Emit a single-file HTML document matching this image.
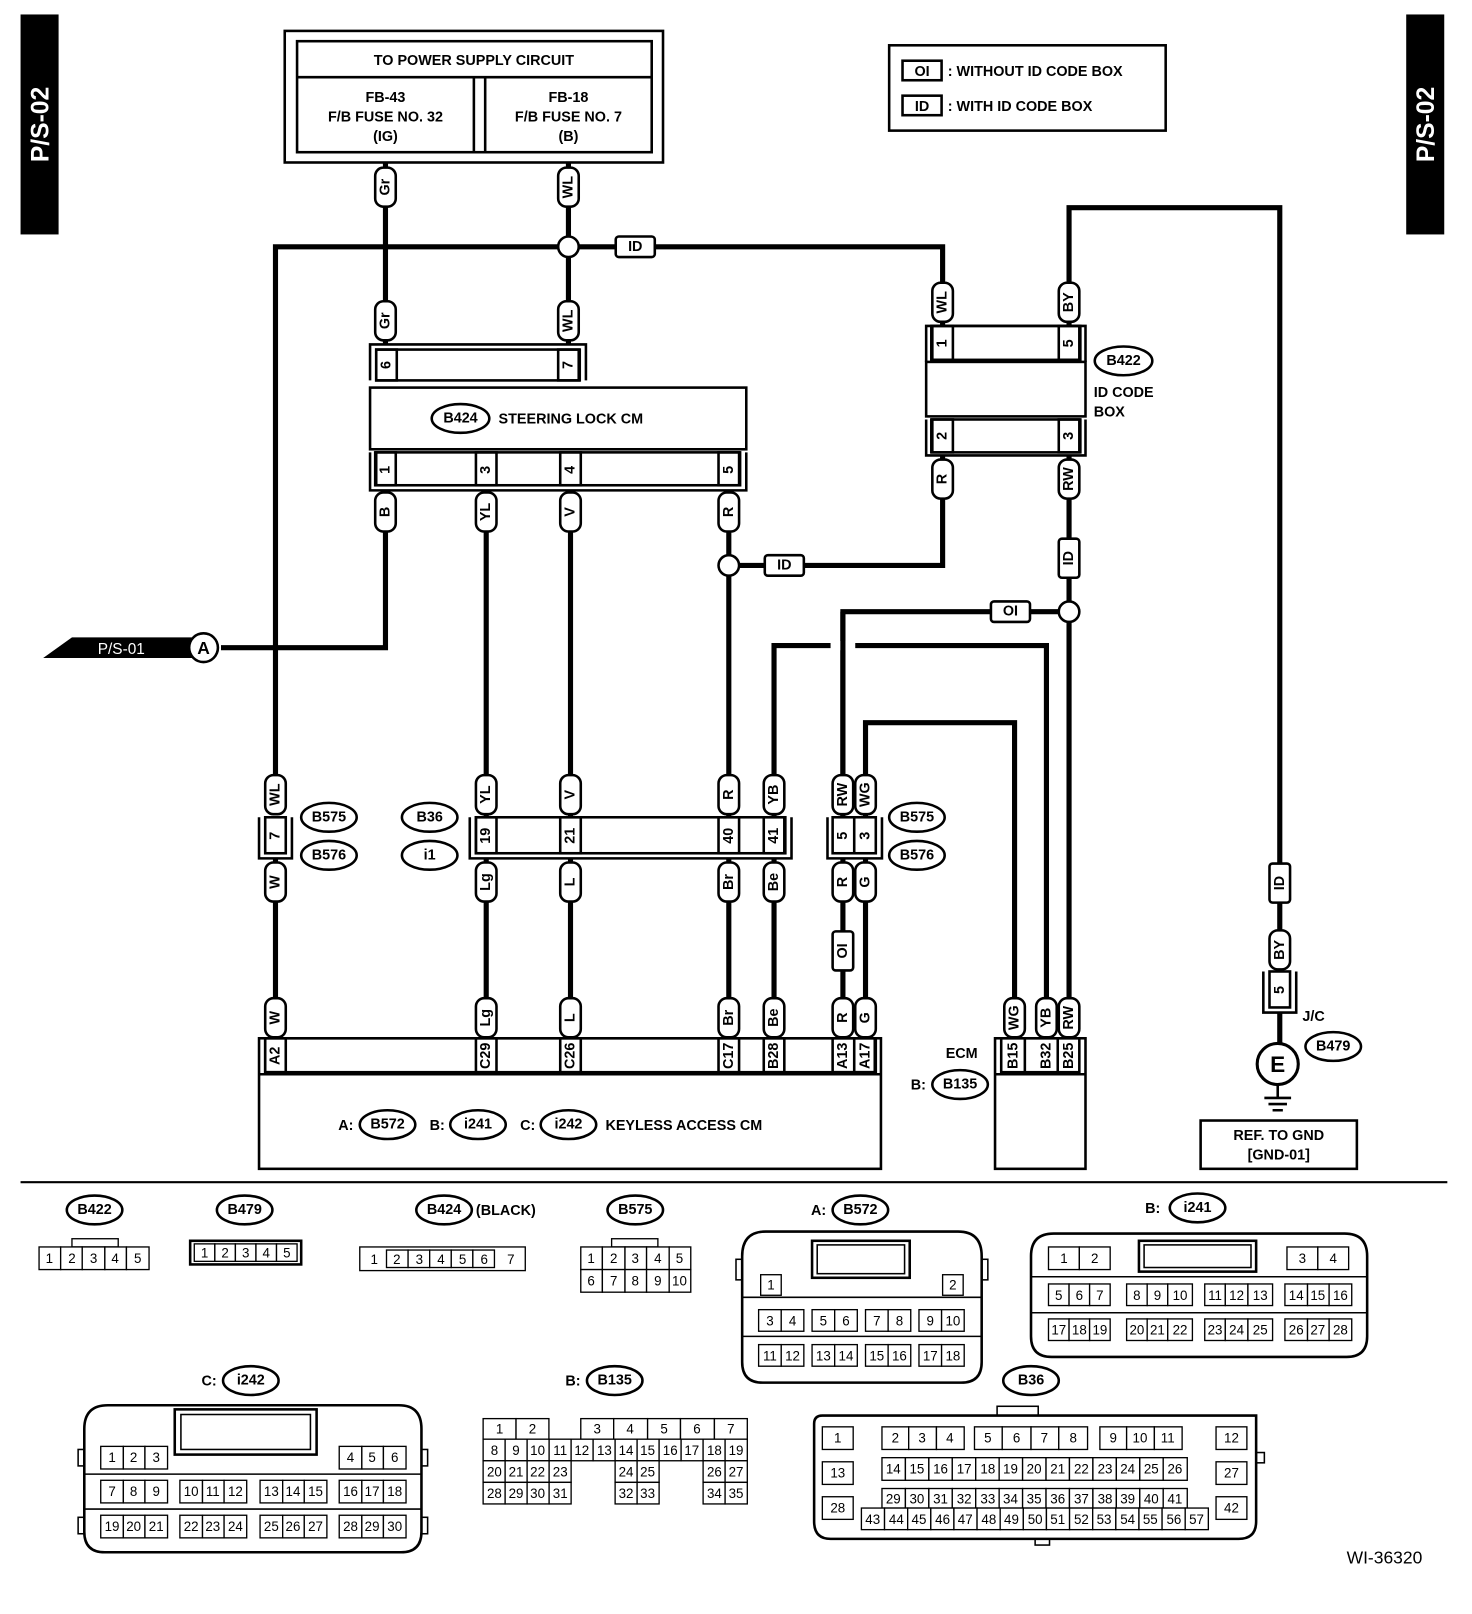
<!DOCTYPE html>
<html><head><meta charset="utf-8"><style>
html,body{margin:0;padding:0;background:#fff}
svg{display:block}
text{font-family:"Liberation Sans",Arial,sans-serif;font-weight:bold;fill:#000}
.w{fill:none;stroke:#000;stroke-width:5}
.b{fill:none;stroke:#000;stroke-width:2.5}
.t{fill:none;stroke:#000;stroke-width:1.5}
.p rect{fill:#fff;stroke:#000;stroke-width:2.5}
.p text{font-size:14px;text-anchor:middle;dominant-baseline:central}
.c text{font-size:13px;font-weight:normal;text-anchor:middle;dominant-baseline:central}
.c rect{fill:#fff;stroke:#000;stroke-width:1.3}
.o ellipse{fill:#fff;stroke:#000;stroke-width:2.5}
.o text{font-size:14px;text-anchor:middle;dominant-baseline:central}
.l{font-size:14px}
</style></head><body>
<svg width="1472" height="1614" viewBox="0 0 1432 1570" xmlns="http://www.w3.org/2000/svg">
<rect x="20" y="14" width="37" height="214" fill="#000"/>
<text transform="translate(47,121) rotate(-90)" style="fill:#fff;font-size:24px" text-anchor="middle">P/S-02</text>
<rect x="1368" y="14" width="37" height="214" fill="#000"/>
<text transform="translate(1395,121) rotate(-90)" style="fill:#fff;font-size:24px" text-anchor="middle">P/S-02</text>

<rect x="277" y="30" width="368" height="128" class="b"/>
<rect x="289" y="40" width="345" height="108" class="b"/>
<line x1="289" y1="75" x2="634" y2="75" class="b"/>
<line x1="461" y1="75" x2="461" y2="148" class="b"/><line x1="472" y1="75" x2="472" y2="148" class="b"/>
<g class="l" text-anchor="middle">
<text x="461" y="63">TO POWER SUPPLY CIRCUIT</text>
<text x="375" y="99">FB-43</text><text x="375" y="118">F/B FUSE NO. 32</text><text x="375" y="137">(IG)</text>
<text x="553" y="99">FB-18</text><text x="553" y="118">F/B FUSE NO. 7</text><text x="553" y="137">(B)</text>
</g>

<rect x="865" y="44" width="269" height="83" class="b"/>
<rect x="878" y="59" width="38" height="19" class="b"/><text x="897" y="74" class="l" text-anchor="middle">OI</text>
<text x="922" y="74" class="l">: WITHOUT ID CODE BOX</text>
<rect x="878" y="93" width="38" height="19" class="b"/><text x="897" y="108" class="l" text-anchor="middle">ID</text>
<text x="922" y="108" class="l">: WITH ID CODE BOX</text>

<path class="w" d="M375 158V335M553 158V335M268 770V240H917V317"/>
<path class="w" d="M1040 317V202H1245V945"/>
<path class="w" d="M375 477V630H215"/>
<path class="w" d="M473 477V795M555 477V795M709 477V795M709 550H917V443"/>
<path class="w" d="M1040 443V1010M1040 595H820V795"/>
<path class="w" d="M753 795V628H1018V1010"/>
<path class="w" d="M842 795V703H987V1010"/>
<line x1="808" y1="628" x2="832" y2="628" stroke="#fff" stroke-width="9"/>
<path class="w" d="M820 795V595"/>
<path class="w" d="M268 835V1010M473 835V1010M555 835V1010M709 835V1010M753 835V1010M820 835V1010M842 835V1010"/>
<circle cx="553" cy="240" r="10" fill="#fff" stroke="#000" stroke-width="2.5"/>
<circle cx="709" cy="550" r="10" fill="#fff" stroke="#000" stroke-width="2.5"/>
<circle cx="1040" cy="595" r="10" fill="#fff" stroke="#000" stroke-width="2.5"/>

<polygon points="42,640 70,620 190,620 190,640" fill="#000"/>
<text x="118" y="636" style="fill:#fff;font-size:15px;font-weight:normal" text-anchor="middle">P/S-01</text>
<circle cx="198" cy="630" r="14" fill="#fff" stroke="#000" stroke-width="2.5"/>
<text x="198" y="636" text-anchor="middle" style="font-size:17px">A</text>

<g class="p">
<rect x="599" y="230" width="38" height="20" rx="3"/><text x="618" y="240">ID</text>
<rect x="744" y="540" width="38" height="20" rx="3"/><text x="763" y="550">ID</text>
<rect x="964" y="585" width="38" height="20" rx="3"/><text x="983" y="595">OI</text>
<rect x="1030" y="524" width="20" height="38" rx="3"/><text transform="translate(1040,543) rotate(-90)">ID</text>
<rect x="810" y="906" width="20" height="38" rx="3"/><text transform="translate(820,925) rotate(-90)">OI</text>
<rect x="1235" y="840" width="20" height="38" rx="3"/><text transform="translate(1245,859) rotate(-90)">ID</text>
</g>

<g class="p">
<g transform="translate(375,182)"><rect x="-10" y="-19" width="20" height="38" rx="8"/><text transform="rotate(-90)">Gr</text></g>
<g transform="translate(553,182)"><rect x="-10" y="-19" width="20" height="38" rx="8"/><text transform="rotate(-90)">WL</text></g>
<g transform="translate(375,312)"><rect x="-10" y="-19" width="20" height="38" rx="8"/><text transform="rotate(-90)">Gr</text></g>
<g transform="translate(553,312)"><rect x="-10" y="-19" width="20" height="38" rx="8"/><text transform="rotate(-90)">WL</text></g>
<g transform="translate(917,294)"><rect x="-10" y="-19" width="20" height="38" rx="8"/><text transform="rotate(-90)">WL</text></g>
<g transform="translate(1040,294)"><rect x="-10" y="-19" width="20" height="38" rx="8"/><text transform="rotate(-90)">BY</text></g>
<g transform="translate(917,466)"><rect x="-10" y="-19" width="20" height="38" rx="8"/><text transform="rotate(-90)">R</text></g>
<g transform="translate(1040,466)"><rect x="-10" y="-19" width="20" height="38" rx="8"/><text transform="rotate(-90)">RW</text></g>
<g transform="translate(375,498)"><rect x="-10" y="-19" width="20" height="38" rx="8"/><text transform="rotate(-90)">B</text></g>
<g transform="translate(473,498)"><rect x="-10" y="-19" width="20" height="38" rx="8"/><text transform="rotate(-90)">YL</text></g>
<g transform="translate(555,498)"><rect x="-10" y="-19" width="20" height="38" rx="8"/><text transform="rotate(-90)">V</text></g>
<g transform="translate(709,498)"><rect x="-10" y="-19" width="20" height="38" rx="8"/><text transform="rotate(-90)">R</text></g>
<g transform="translate(268,773)"><rect x="-10" y="-19" width="20" height="38" rx="8"/><text transform="rotate(-90)">WL</text></g>
<g transform="translate(473,773)"><rect x="-10" y="-19" width="20" height="38" rx="8"/><text transform="rotate(-90)">YL</text></g>
<g transform="translate(555,773)"><rect x="-10" y="-19" width="20" height="38" rx="8"/><text transform="rotate(-90)">V</text></g>
<g transform="translate(709,773)"><rect x="-10" y="-19" width="20" height="38" rx="8"/><text transform="rotate(-90)">R</text></g>
<g transform="translate(753,773)"><rect x="-10" y="-19" width="20" height="38" rx="8"/><text transform="rotate(-90)">YB</text></g>
<g transform="translate(820,773)"><rect x="-10" y="-19" width="20" height="38" rx="8"/><text transform="rotate(-90)">RW</text></g>
<g transform="translate(842,773)"><rect x="-10" y="-19" width="20" height="38" rx="8"/><text transform="rotate(-90)">WG</text></g>
<g transform="translate(268,858)"><rect x="-10" y="-19" width="20" height="38" rx="8"/><text transform="rotate(-90)">W</text></g>
<g transform="translate(473,858)"><rect x="-10" y="-19" width="20" height="38" rx="8"/><text transform="rotate(-90)">Lg</text></g>
<g transform="translate(555,858)"><rect x="-10" y="-19" width="20" height="38" rx="8"/><text transform="rotate(-90)">L</text></g>
<g transform="translate(709,858)"><rect x="-10" y="-19" width="20" height="38" rx="8"/><text transform="rotate(-90)">Br</text></g>
<g transform="translate(753,858)"><rect x="-10" y="-19" width="20" height="38" rx="8"/><text transform="rotate(-90)">Be</text></g>
<g transform="translate(820,858)"><rect x="-10" y="-19" width="20" height="38" rx="8"/><text transform="rotate(-90)">R</text></g>
<g transform="translate(842,858)"><rect x="-10" y="-19" width="20" height="38" rx="8"/><text transform="rotate(-90)">G</text></g>
<g transform="translate(1245,924)"><rect x="-10" y="-19" width="20" height="38" rx="8"/><text transform="rotate(-90)">BY</text></g>
<g transform="translate(268,990)"><rect x="-10" y="-19" width="20" height="38" rx="8"/><text transform="rotate(-90)">W</text></g>
<g transform="translate(473,990)"><rect x="-10" y="-19" width="20" height="38" rx="8"/><text transform="rotate(-90)">Lg</text></g>
<g transform="translate(555,990)"><rect x="-10" y="-19" width="20" height="38" rx="8"/><text transform="rotate(-90)">L</text></g>
<g transform="translate(709,990)"><rect x="-10" y="-19" width="20" height="38" rx="8"/><text transform="rotate(-90)">Br</text></g>
<g transform="translate(753,990)"><rect x="-10" y="-19" width="20" height="38" rx="8"/><text transform="rotate(-90)">Be</text></g>
<g transform="translate(820,990)"><rect x="-10" y="-19" width="20" height="38" rx="8"/><text transform="rotate(-90)">R</text></g>
<g transform="translate(842,990)"><rect x="-10" y="-19" width="20" height="38" rx="8"/><text transform="rotate(-90)">G</text></g>
<g transform="translate(987,990)"><rect x="-10" y="-19" width="20" height="38" rx="8"/><text transform="rotate(-90)">WG</text></g>
<g transform="translate(1018,990)"><rect x="-10" y="-19" width="20" height="38" rx="8"/><text transform="rotate(-90)">YB</text></g>
<g transform="translate(1040,990)"><rect x="-10" y="-19" width="20" height="38" rx="8"/><text transform="rotate(-90)">RW</text></g>
</g>

<path class="b" d="M360 370V335H570V370"/>
<rect x="366" y="340" width="198" height="30" fill="#fff" class="b"/>
<rect x="366" y="340" width="20" height="30" class="b"/><rect x="543" y="340" width="20" height="30" class="b"/>
<text transform="translate(376,355) rotate(-90)" class="l" text-anchor="middle" dominant-baseline="central">6</text>
<text transform="translate(553,355) rotate(-90)" class="l" text-anchor="middle" dominant-baseline="central">7</text>
<rect x="360" y="377" width="366" height="60" class="b"/>
<path class="b" d="M360 440V477H726V440"/>
<rect x="366" y="440" width="354" height="32" class="b"/>
<rect x="365" y="440" width="20" height="32" class="b"/><rect x="463" y="440" width="20" height="32" class="b"/><rect x="545" y="440" width="20" height="32" class="b"/><rect x="699" y="440" width="20" height="32" class="b"/>
<g class="l" text-anchor="middle" dominant-baseline="central">
<text transform="translate(375,457) rotate(-90)">1</text><text transform="translate(473,457) rotate(-90)">3</text><text transform="translate(555,457) rotate(-90)">4</text><text transform="translate(709,457) rotate(-90)">5</text>
</g>
<g class="o"><ellipse cx="448" cy="407" rx="28" ry="14"/><text x="448" y="407">B424</text></g>
<text x="485" y="412" class="l">STEERING LOCK CM</text>

<path class="b" d="M901 352V317H1056V352"/>
<rect x="906" y="317" width="145" height="33" class="b"/>
<rect x="907" y="317" width="20" height="33" class="b"/><rect x="1030" y="317" width="20" height="33" class="b"/>
<rect x="901" y="352" width="155" height="53" class="b"/>
<path class="b" d="M901 408V443H1056V408"/>
<rect x="906" y="408" width="145" height="32" class="b"/>
<rect x="907" y="408" width="20" height="32" class="b"/><rect x="1030" y="408" width="20" height="32" class="b"/>
<g class="l" text-anchor="middle" dominant-baseline="central">
<text transform="translate(917,334) rotate(-90)">1</text><text transform="translate(1040,334) rotate(-90)">5</text>
<text transform="translate(917,424) rotate(-90)">2</text><text transform="translate(1040,424) rotate(-90)">3</text>
</g>
<g class="o"><ellipse cx="1093" cy="351" rx="28" ry="14"/><text x="1093" y="351">B422</text></g>
<text x="1064" y="386" class="l">ID CODE</text><text x="1064" y="405" class="l">BOX</text>

<path class="b" d="M252 795V835H284V795"/>
<rect x="258" y="795" width="20" height="35" class="b" fill="#fff"/>
<text transform="translate(268,813) rotate(-90)" class="l" text-anchor="middle" dominant-baseline="central">7</text>
<g class="o"><ellipse cx="320" cy="795" rx="27" ry="14"/><text x="320" y="795">B575</text>
<ellipse cx="320" cy="832" rx="27" ry="14"/><text x="320" y="832">B576</text>
<ellipse cx="418" cy="795" rx="27" ry="14"/><text x="418" y="795">B36</text>
<ellipse cx="418" cy="832" rx="27" ry="14"/><text x="418" y="832">i1</text></g>
<path class="b" d="M457 795V835H770V795"/>
<rect x="463" y="795" width="301" height="35" class="b"/>
<rect x="463" y="795" width="20" height="35" class="b"/><rect x="545" y="795" width="20" height="35" class="b"/><rect x="699" y="795" width="20" height="35" class="b"/><rect x="743" y="795" width="20" height="35" class="b"/>
<g class="l" text-anchor="middle" dominant-baseline="central">
<text transform="translate(473,813) rotate(-90)">19</text><text transform="translate(555,813) rotate(-90)">21</text><text transform="translate(709,813) rotate(-90)">40</text><text transform="translate(753,813) rotate(-90)">41</text>
</g>
<path class="b" d="M805 795V835H858V795"/>
<rect x="810" y="795" width="42" height="35" class="b"/>
<line x1="831" y1="795" x2="831" y2="830" class="b"/>
<g class="l" text-anchor="middle" dominant-baseline="central">
<text transform="translate(820,813) rotate(-90)">5</text><text transform="translate(842,813) rotate(-90)">3</text></g>
<g class="o"><ellipse cx="892" cy="795" rx="27" ry="14"/><text x="892" y="795">B575</text>
<ellipse cx="892" cy="832" rx="27" ry="14"/><text x="892" y="832">B576</text></g>

<path class="b" d="M1229 945V985H1261V945"/>
<rect x="1235" y="945" width="20" height="35" class="b"/>
<text transform="translate(1245,963) rotate(-90)" class="l" text-anchor="middle" dominant-baseline="central">5</text>
<path class="w" d="M1245 985V1015"/>
<circle cx="1243" cy="1035" r="20" fill="#fff" stroke="#000" stroke-width="3"/>
<text x="1243" y="1043" text-anchor="middle" style="font-size:22px">E</text>
<path d="M1243 1055V1068M1230 1068H1256M1234 1074H1252M1238 1080H1248" stroke="#000" stroke-width="2.5"/>
<text x="1267" y="993" class="l">J/C</text>
<g class="o"><ellipse cx="1297" cy="1018" rx="27" ry="14"/><text x="1297" y="1018">B479</text></g>
<rect x="1168" y="1090" width="152" height="47" class="b"/>
<text x="1244" y="1109" class="l" text-anchor="middle">REF. TO GND</text>
<text x="1244" y="1128" class="l" text-anchor="middle">[GND-01]</text>

<rect x="252" y="1010" width="605" height="127" class="b"/>
<rect x="258" y="1010" width="593" height="33" class="b"/>
<line x1="252" y1="1045" x2="857" y2="1045" class="b"/>
<g fill="none"><rect x="258" y="1010" width="20" height="33" class="b"/><rect x="463" y="1010" width="20" height="33" class="b"/><rect x="545" y="1010" width="20" height="33" class="b"/><rect x="699" y="1010" width="20" height="33" class="b"/><rect x="743" y="1010" width="20" height="33" class="b"/><rect x="810" y="1010" width="42" height="33" class="b"/><line x1="831" y1="1010" x2="831" y2="1043" class="b"/></g>
<g class="l" text-anchor="middle" dominant-baseline="central">
<text transform="translate(268,1027) rotate(-90)">A2</text><text transform="translate(473,1027) rotate(-90)">C29</text><text transform="translate(555,1027) rotate(-90)">C26</text><text transform="translate(709,1027) rotate(-90)">C17</text><text transform="translate(753,1027) rotate(-90)">B28</text><text transform="translate(820,1027) rotate(-90)">A13</text><text transform="translate(842,1027) rotate(-90)">A17</text>
</g>
<text x="329" y="1099" class="l">A:</text>
<g class="o"><ellipse cx="377" cy="1094" rx="27" ry="14"/><text x="377" y="1094">B572</text></g>
<text x="418" y="1099" class="l">B:</text>
<g class="o"><ellipse cx="465" cy="1094" rx="27" ry="14"/><text x="465" y="1094">i241</text></g>
<text x="506" y="1099" class="l">C:</text>
<g class="o"><ellipse cx="553" cy="1094" rx="27" ry="14"/><text x="553" y="1094">i242</text></g>
<text x="589" y="1099" class="l">KEYLESS ACCESS CM</text>

<rect x="968" y="1010" width="88" height="127" class="b"/>
<rect x="974" y="1010" width="76" height="33" class="b"/>
<line x1="968" y1="1045" x2="1056" y2="1045" class="b"/>
<line x1="997" y1="1010" x2="997" y2="1043" class="b"/><line x1="1029" y1="1010" x2="1029" y2="1043" class="b"/>
<g class="l" text-anchor="middle" dominant-baseline="central">
<text transform="translate(986,1027) rotate(-90)">B15</text><text transform="translate(1018,1027) rotate(-90)">B32</text><text transform="translate(1040,1027) rotate(-90)">B25</text></g>
<text x="920" y="1029" class="l">ECM</text>
<text x="886" y="1060" class="l">B:</text>
<g class="o"><ellipse cx="934" cy="1055" rx="27" ry="14"/><text x="934" y="1055">B135</text></g>

<line x1="20" y1="1150" x2="1408" y2="1150" stroke="#000" stroke-width="2"/>

<g class="o">
<ellipse cx="92" cy="1177" rx="27" ry="14"/><text x="92" y="1177">B422</text>
<ellipse cx="238" cy="1177" rx="27" ry="14"/><text x="238" y="1177">B479</text>
<ellipse cx="432" cy="1177" rx="27" ry="14"/><text x="432" y="1177">B424</text>
<ellipse cx="618" cy="1177" rx="27" ry="14"/><text x="618" y="1177">B575</text>
<ellipse cx="837" cy="1177" rx="27" ry="14"/><text x="837" y="1177">B572</text>
<ellipse cx="1165" cy="1175" rx="27" ry="14"/><text x="1165" y="1175">i241</text>
<ellipse cx="244" cy="1343" rx="27" ry="14"/><text x="244" y="1343">i242</text>
<ellipse cx="598" cy="1343" rx="27" ry="14"/><text x="598" y="1343">B135</text>
<ellipse cx="1003" cy="1343" rx="27" ry="14"/><text x="1003" y="1343">B36</text>
</g>
<text x="463" y="1182" class="l">(BLACK)</text>
<text x="789" y="1182" class="l">A:</text>
<text x="1114" y="1180" class="l">B:</text>
<text x="196" y="1348" class="l">C:</text>
<text x="550" y="1348" class="l">B:</text>

<g class="c">
<rect x="70" y="1205" width="45" height="8"/>
<rect x="38" y="1213" width="21" height="22"/><text x="48" y="1224">1</text>
<rect x="59" y="1213" width="21" height="22"/><text x="70" y="1224">2</text>
<rect x="80" y="1213" width="22" height="22"/><text x="91" y="1224">3</text>
<rect x="102" y="1213" width="21" height="22"/><text x="112" y="1224">4</text>
<rect x="123" y="1213" width="22" height="22"/><text x="134" y="1224">5</text>
<rect x="185" y="1207" width="108" height="23" style="stroke-width:2.5"/>
<rect x="189" y="1210" width="20" height="17"/><text x="199" y="1219">1</text>
<rect x="209" y="1210" width="20" height="17"/><text x="219" y="1219">2</text>
<rect x="229" y="1210" width="20" height="17"/><text x="239" y="1219">3</text>
<rect x="249" y="1210" width="20" height="17"/><text x="259" y="1219">4</text>
<rect x="269" y="1210" width="20" height="17"/><text x="279" y="1219">5</text>
<rect x="350" y="1213" width="161" height="23"/>
<text x="364" y="1225">1</text><rect x="376" y="1216" width="21" height="17"/><text x="386" y="1225">2</text>
<rect x="397" y="1216" width="21" height="17"/><text x="408" y="1225">3</text><rect x="418" y="1216" width="21" height="17"/><text x="429" y="1225">4</text>
<rect x="439" y="1216" width="21" height="17"/><text x="450" y="1225">5</text><rect x="460" y="1216" width="21" height="17"/><text x="471" y="1225">6</text>
<text x="497" y="1225">7</text>
<rect x="595" y="1205" width="45" height="8"/>
<rect x="565" y="1213" width="21" height="22"/><text x="575" y="1224">1</text><rect x="586" y="1213" width="22" height="22"/><text x="597" y="1224">2</text><rect x="608" y="1213" width="21" height="22"/><text x="618" y="1224">3</text><rect x="629" y="1213" width="22" height="22"/><text x="640" y="1224">4</text><rect x="651" y="1213" width="21" height="22"/><text x="661" y="1224">5</text>
<rect x="565" y="1235" width="21" height="22"/><text x="575" y="1246">6</text><rect x="586" y="1235" width="22" height="22"/><text x="597" y="1246">7</text><rect x="608" y="1235" width="21" height="22"/><text x="618" y="1246">8</text><rect x="629" y="1235" width="22" height="22"/><text x="640" y="1246">9</text><rect x="651" y="1235" width="21" height="22"/><text x="661" y="1246">10</text>
</g>

<path class="b" d="M745 1198H932Q955 1198 955 1222V1325Q955 1345 935 1345H742Q722 1345 722 1325V1222Q722 1198 745 1198Z" fill="#fff"/>
<line x1="722" y1="1262" x2="955" y2="1262" class="t"/><line x1="722" y1="1300" x2="955" y2="1300" class="t"/>
<rect x="716" y="1225" width="6" height="20" class="t"/><rect x="955" y="1225" width="6" height="20" class="t"/>
<rect x="790" y="1207" width="95" height="36" class="b"/><rect x="795" y="1211" width="85" height="28" class="t"/>
<g class="c">
<rect x="740" y="1240" width="20" height="20"/><text x="750" y="1250">1</text>
<rect x="917" y="1240" width="20" height="20"/><text x="927" y="1250">2</text>
<rect x="738" y="1274" width="22" height="21"/><text x="749" y="1285">3</text><rect x="760" y="1274" width="22" height="21"/><text x="771" y="1285">4</text>
<rect x="790" y="1274" width="22" height="21"/><text x="801" y="1285">5</text><rect x="812" y="1274" width="22" height="21"/><text x="823" y="1285">6</text>
<rect x="842" y="1274" width="22" height="21"/><text x="853" y="1285">7</text><rect x="864" y="1274" width="22" height="21"/><text x="875" y="1285">8</text>
<rect x="894" y="1274" width="22" height="21"/><text x="905" y="1285">9</text><rect x="916" y="1274" width="22" height="21"/><text x="927" y="1285">10</text>
<rect x="738" y="1308" width="22" height="21"/><text x="749" y="1319">11</text><rect x="760" y="1308" width="22" height="21"/><text x="771" y="1319">12</text>
<rect x="790" y="1308" width="22" height="21"/><text x="801" y="1319">13</text><rect x="812" y="1308" width="22" height="21"/><text x="823" y="1319">14</text>
<rect x="842" y="1308" width="22" height="21"/><text x="853" y="1319">15</text><rect x="864" y="1308" width="22" height="21"/><text x="875" y="1319">16</text>
<rect x="894" y="1308" width="22" height="21"/><text x="905" y="1319">17</text><rect x="916" y="1308" width="22" height="21"/><text x="927" y="1319">18</text>
</g>

<path class="b" d="M1025 1200H1308Q1330 1200 1330 1222V1300Q1330 1320 1310 1320H1023Q1003 1320 1003 1300V1222Q1003 1200 1025 1200Z" fill="#fff"/>
<line x1="1003" y1="1242" x2="1330" y2="1242" class="t"/><line x1="1003" y1="1277" x2="1330" y2="1277" class="t"/>
<rect x="1108" y="1207" width="114" height="30" class="b"/><rect x="1113" y="1211" width="104" height="22" class="t"/>
<g class="c">
<rect x="1020" y="1213" width="30" height="22"/><text x="1035" y="1224">1</text><rect x="1050" y="1213" width="30" height="22"/><text x="1065" y="1224">2</text>
<rect x="1252" y="1213" width="30" height="22"/><text x="1267" y="1224">3</text><rect x="1282" y="1213" width="30" height="22"/><text x="1297" y="1224">4</text>
<rect x="1020" y="1249" width="20" height="21"/><text x="1030" y="1260">5</text><rect x="1040" y="1249" width="20" height="21"/><text x="1050" y="1260">6</text><rect x="1060" y="1249" width="20" height="21"/><text x="1070" y="1260">7</text>
<rect x="1096" y="1249" width="20" height="21"/><text x="1106" y="1260">8</text><rect x="1116" y="1249" width="20" height="21"/><text x="1126" y="1260">9</text><rect x="1136" y="1249" width="24" height="21"/><text x="1148" y="1260">10</text>
<rect x="1172" y="1249" width="20" height="21"/><text x="1182" y="1260">11</text><rect x="1192" y="1249" width="22" height="21"/><text x="1203" y="1260">12</text><rect x="1214" y="1249" width="24" height="21"/><text x="1226" y="1260">13</text>
<rect x="1250" y="1249" width="22" height="21"/><text x="1261" y="1260">14</text><rect x="1272" y="1249" width="21" height="21"/><text x="1282" y="1260">15</text><rect x="1293" y="1249" width="22" height="21"/><text x="1304" y="1260">16</text>
<rect x="1020" y="1283" width="20" height="21"/><text x="1030" y="1294">17</text><rect x="1040" y="1283" width="20" height="21"/><text x="1050" y="1294">18</text><rect x="1060" y="1283" width="20" height="21"/><text x="1070" y="1294">19</text>
<rect x="1096" y="1283" width="20" height="21"/><text x="1106" y="1294">20</text><rect x="1116" y="1283" width="20" height="21"/><text x="1126" y="1294">21</text><rect x="1136" y="1283" width="24" height="21"/><text x="1148" y="1294">22</text>
<rect x="1172" y="1283" width="20" height="21"/><text x="1182" y="1294">23</text><rect x="1192" y="1283" width="22" height="21"/><text x="1203" y="1294">24</text><rect x="1214" y="1283" width="24" height="21"/><text x="1226" y="1294">25</text>
<rect x="1250" y="1283" width="22" height="21"/><text x="1261" y="1294">26</text><rect x="1272" y="1283" width="21" height="21"/><text x="1282" y="1294">27</text><rect x="1293" y="1283" width="22" height="21"/><text x="1304" y="1294">28</text>
</g>

<path class="b" d="M105 1367H388Q410 1367 410 1390V1490Q410 1510 390 1510H102Q82 1510 82 1490V1390Q82 1367 105 1367Z" fill="#fff"/>
<line x1="82" y1="1434" x2="410" y2="1434" class="t"/><line x1="82" y1="1468" x2="410" y2="1468" class="t"/>
<rect x="76" y="1410" width="6" height="16" class="t"/><rect x="410" y="1410" width="6" height="16" class="t"/>
<rect x="76" y="1476" width="6" height="16" class="t"/><rect x="410" y="1476" width="6" height="16" class="t"/>
<rect x="170" y="1371" width="138" height="44" class="b"/><rect x="176" y="1376" width="126" height="34" class="t"/>
<g class="c">
<rect x="98" y="1407" width="22" height="22"/><text x="109" y="1418">1</text><rect x="120" y="1407" width="21" height="22"/><text x="130" y="1418">2</text><rect x="141" y="1407" width="22" height="22"/><text x="152" y="1418">3</text>
<rect x="330" y="1407" width="22" height="22"/><text x="341" y="1418">4</text><rect x="352" y="1407" width="21" height="22"/><text x="362" y="1418">5</text><rect x="373" y="1407" width="22" height="22"/><text x="384" y="1418">6</text>
<rect x="98" y="1440" width="22" height="22"/><text x="109" y="1451">7</text><rect x="120" y="1440" width="21" height="22"/><text x="130" y="1451">8</text><rect x="141" y="1440" width="22" height="22"/><text x="152" y="1451">9</text>
<rect x="175" y="1440" width="22" height="22"/><text x="186" y="1451">10</text><rect x="197" y="1440" width="21" height="22"/><text x="207" y="1451">11</text><rect x="218" y="1440" width="22" height="22"/><text x="229" y="1451">12</text>
<rect x="253" y="1440" width="22" height="22"/><text x="264" y="1451">13</text><rect x="275" y="1440" width="21" height="22"/><text x="285" y="1451">14</text><rect x="296" y="1440" width="22" height="22"/><text x="307" y="1451">15</text>
<rect x="330" y="1440" width="22" height="22"/><text x="341" y="1451">16</text><rect x="352" y="1440" width="21" height="22"/><text x="362" y="1451">17</text><rect x="373" y="1440" width="22" height="22"/><text x="384" y="1451">18</text>
<rect x="98" y="1474" width="22" height="22"/><text x="109" y="1485">19</text><rect x="120" y="1474" width="21" height="22"/><text x="130" y="1485">20</text><rect x="141" y="1474" width="22" height="22"/><text x="152" y="1485">21</text>
<rect x="175" y="1474" width="22" height="22"/><text x="186" y="1485">22</text><rect x="197" y="1474" width="21" height="22"/><text x="207" y="1485">23</text><rect x="218" y="1474" width="22" height="22"/><text x="229" y="1485">24</text>
<rect x="253" y="1474" width="22" height="22"/><text x="264" y="1485">25</text><rect x="275" y="1474" width="21" height="22"/><text x="285" y="1485">26</text><rect x="296" y="1474" width="22" height="22"/><text x="307" y="1485">27</text>
<rect x="330" y="1474" width="22" height="22"/><text x="341" y="1485">28</text><rect x="352" y="1474" width="21" height="22"/><text x="362" y="1485">29</text><rect x="373" y="1474" width="22" height="22"/><text x="384" y="1485">30</text>
</g>

<g class="c">
<rect x="470" y="1380" width="32" height="20"/><text x="486" y="1390">1</text><rect x="502" y="1380" width="32" height="20"/><text x="518" y="1390">2</text>
<rect x="565" y="1380" width="32" height="20"/><text x="581" y="1390">3</text><rect x="597" y="1380" width="33" height="20"/><text x="613" y="1390">4</text><rect x="630" y="1380" width="32" height="20"/><text x="646" y="1390">5</text><rect x="662" y="1380" width="33" height="20"/><text x="678" y="1390">6</text><rect x="695" y="1380" width="32" height="20"/><text x="711" y="1390">7</text>
<rect x="470" y="1400" width="21.4" height="21"/><text x="481" y="1411">8</text><rect x="491.4" y="1400" width="21.4" height="21"/><text x="502" y="1411">9</text><rect x="512.8" y="1400" width="21.4" height="21"/><text x="523" y="1411">10</text><rect x="534.2" y="1400" width="21.4" height="21"/><text x="545" y="1411">11</text><rect x="555.6" y="1400" width="21.4" height="21"/><text x="566" y="1411">12</text><rect x="577" y="1400" width="21.4" height="21"/><text x="588" y="1411">13</text><rect x="598.4" y="1400" width="21.4" height="21"/><text x="609" y="1411">14</text><rect x="619.8" y="1400" width="21.4" height="21"/><text x="630" y="1411">15</text><rect x="641.2" y="1400" width="21.4" height="21"/><text x="652" y="1411">16</text><rect x="662.6" y="1400" width="21.4" height="21"/><text x="673" y="1411">17</text><rect x="684" y="1400" width="21.4" height="21"/><text x="695" y="1411">18</text><rect x="705.4" y="1400" width="21.6" height="21"/><text x="716" y="1411">19</text>
<rect x="470" y="1421" width="21.4" height="21"/><text x="481" y="1432">20</text><rect x="491.4" y="1421" width="21.4" height="21"/><text x="502" y="1432">21</text><rect x="512.8" y="1421" width="21.4" height="21"/><text x="523" y="1432">22</text><rect x="534.2" y="1421" width="21.4" height="21"/><text x="545" y="1432">23</text>
<rect x="598.4" y="1421" width="21.4" height="21"/><text x="609" y="1432">24</text><rect x="619.8" y="1421" width="21.4" height="21"/><text x="630" y="1432">25</text>
<rect x="684" y="1421" width="21.4" height="21"/><text x="695" y="1432">26</text><rect x="705.4" y="1421" width="21.6" height="21"/><text x="716" y="1432">27</text>
<rect x="470" y="1442" width="21.4" height="21"/><text x="481" y="1453">28</text><rect x="491.4" y="1442" width="21.4" height="21"/><text x="502" y="1453">29</text><rect x="512.8" y="1442" width="21.4" height="21"/><text x="523" y="1453">30</text><rect x="534.2" y="1442" width="21.4" height="21"/><text x="545" y="1453">31</text>
<rect x="598.4" y="1442" width="21.4" height="21"/><text x="609" y="1453">32</text><rect x="619.8" y="1442" width="21.4" height="21"/><text x="630" y="1453">33</text>
<rect x="684" y="1442" width="21.4" height="21"/><text x="695" y="1453">34</text><rect x="705.4" y="1442" width="21.6" height="21"/><text x="716" y="1453">35</text>
</g>

<path class="b" d="M800 1377H1222V1480Q1222 1497 1205 1497H808Q792 1497 792 1480V1385Q792 1377 800 1377Z" fill="#fff"/>
<rect x="970" y="1368" width="40" height="9" class="t"/><rect x="1222" y="1413" width="8" height="10" class="t"/>
<rect x="1007" y="1497" width="14" height="6" class="t"/>
<g class="c">
<rect x="800" y="1388" width="30" height="22"/><text x="815" y="1399">1</text>
<rect x="800" y="1422" width="30" height="22"/><text x="815" y="1433">13</text>
<rect x="800" y="1456" width="30" height="22"/><text x="815" y="1467">28</text>
<rect x="1183" y="1388" width="30" height="22"/><text x="1198" y="1399">12</text>
<rect x="1183" y="1422" width="30" height="22"/><text x="1198" y="1433">27</text>
<rect x="1183" y="1456" width="30" height="22"/><text x="1198" y="1467">42</text>
<rect x="858" y="1388" width="26" height="22"/><text x="871" y="1399">2</text><rect x="884" y="1388" width="27" height="22"/><text x="897" y="1399">3</text><rect x="911" y="1388" width="27" height="22"/><text x="924" y="1399">4</text>
<rect x="948" y="1388" width="27" height="22"/><text x="961" y="1399">5</text><rect x="975" y="1388" width="28" height="22"/><text x="989" y="1399">6</text><rect x="1003" y="1388" width="27" height="22"/><text x="1016" y="1399">7</text><rect x="1030" y="1388" width="28" height="22"/><text x="1044" y="1399">8</text>
<rect x="1070" y="1388" width="26" height="22"/><text x="1083" y="1399">9</text><rect x="1096" y="1388" width="27" height="22"/><text x="1109" y="1399">10</text><rect x="1123" y="1388" width="27" height="22"/><text x="1136" y="1399">11</text>
</g>
<g class="c" style="font-size:12px">
<rect x="858" y="1418" width="22.8" height="22"/><text x="869" y="1429">14</text><rect x="880.8" y="1418" width="22.8" height="22"/><text x="892" y="1429">15</text><rect x="903.6" y="1418" width="22.8" height="22"/><text x="915" y="1429">16</text><rect x="926.4" y="1418" width="22.8" height="22"/><text x="938" y="1429">17</text><rect x="949.2" y="1418" width="22.8" height="22"/><text x="961" y="1429">18</text><rect x="972" y="1418" width="22.8" height="22"/><text x="983" y="1429">19</text><rect x="994.8" y="1418" width="22.8" height="22"/><text x="1006" y="1429">20</text><rect x="1017.6" y="1418" width="22.8" height="22"/><text x="1029" y="1429">21</text><rect x="1040.4" y="1418" width="22.8" height="22"/><text x="1052" y="1429">22</text><rect x="1063.2" y="1418" width="22.8" height="22"/><text x="1075" y="1429">23</text><rect x="1086" y="1418" width="22.8" height="22"/><text x="1097" y="1429">24</text><rect x="1108.8" y="1418" width="22.8" height="22"/><text x="1120" y="1429">25</text><rect x="1131.6" y="1418" width="23.4" height="22"/><text x="1143" y="1429">26</text>
<rect x="858" y="1448" width="22.8" height="19"/><text x="869" y="1458">29</text><rect x="880.8" y="1448" width="22.8" height="19"/><text x="892" y="1458">30</text><rect x="903.6" y="1448" width="22.8" height="19"/><text x="915" y="1458">31</text><rect x="926.4" y="1448" width="22.8" height="19"/><text x="938" y="1458">32</text><rect x="949.2" y="1448" width="22.8" height="19"/><text x="961" y="1458">33</text><rect x="972" y="1448" width="22.8" height="19"/><text x="983" y="1458">34</text><rect x="994.8" y="1448" width="22.8" height="19"/><text x="1006" y="1458">35</text><rect x="1017.6" y="1448" width="22.8" height="19"/><text x="1029" y="1458">36</text><rect x="1040.4" y="1448" width="22.8" height="19"/><text x="1052" y="1458">37</text><rect x="1063.2" y="1448" width="22.8" height="19"/><text x="1075" y="1458">38</text><rect x="1086" y="1448" width="22.8" height="19"/><text x="1097" y="1458">39</text><rect x="1108.8" y="1448" width="22.8" height="19"/><text x="1120" y="1458">40</text><rect x="1131.6" y="1448" width="23.4" height="19"/><text x="1143" y="1458">41</text>
<rect x="838" y="1467" width="22.5" height="21"/><text x="849" y="1478">43</text><rect x="860.5" y="1467" width="22.5" height="21"/><text x="872" y="1478">44</text><rect x="883" y="1467" width="22.5" height="21"/><text x="894" y="1478">45</text><rect x="905.5" y="1467" width="22.5" height="21"/><text x="917" y="1478">46</text><rect x="928" y="1467" width="22.5" height="21"/><text x="939" y="1478">47</text><rect x="950.5" y="1467" width="22.5" height="21"/><text x="962" y="1478">48</text><rect x="973" y="1467" width="22.5" height="21"/><text x="984" y="1478">49</text><rect x="995.5" y="1467" width="22.5" height="21"/><text x="1007" y="1478">50</text><rect x="1018" y="1467" width="22.5" height="21"/><text x="1029" y="1478">51</text><rect x="1040.5" y="1467" width="22.5" height="21"/><text x="1052" y="1478">52</text><rect x="1063" y="1467" width="22.5" height="21"/><text x="1074" y="1478">53</text><rect x="1085.5" y="1467" width="22.5" height="21"/><text x="1097" y="1478">54</text><rect x="1108" y="1467" width="22.5" height="21"/><text x="1119" y="1478">55</text><rect x="1130.5" y="1467" width="22.5" height="21"/><text x="1142" y="1478">56</text><rect x="1153" y="1467" width="22.5" height="21"/><text x="1164" y="1478">57</text>
</g>

<text x="1310" y="1521" style="font-size:17px;font-weight:normal">WI-36320</text>
</svg>
</body></html>
